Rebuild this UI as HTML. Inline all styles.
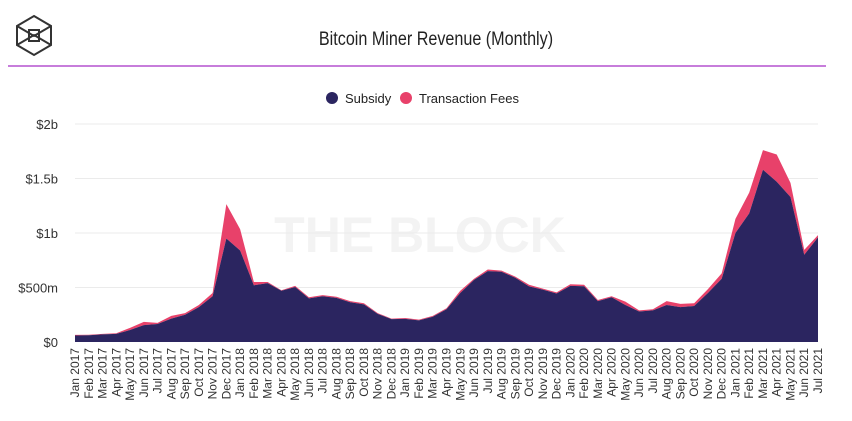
<!DOCTYPE html>
<html><head><meta charset="utf-8"><style>
body{margin:0;background:#fff;width:852px;height:416px;overflow:hidden;font-family:"Liberation Sans",sans-serif}
</style></head><body>
<svg width="852" height="416" xmlns="http://www.w3.org/2000/svg">
<g fill="none" stroke="#333" stroke-width="2">
<polygon points="34,16 51,26 51,45 34,55 17,45 17,26"/>
<polyline points="17,26 34,36 51,26"/><polyline points="17,45 34,35 51,45"/>
<rect x="29" y="30" width="10" height="11"/>
</g>
<text x="436" y="45" text-anchor="middle" font-size="19" fill="#222" transform="translate(436,0) scale(0.85,1) translate(-436,0)">Bitcoin Miner Revenue (Monthly)</text>
<rect x="8" y="65" width="818" height="2" fill="#c77ddb"/>
<g font-size="13" fill="#222">
<circle cx="332" cy="98" r="6" fill="#2b2560"/>
<text x="345" y="103">Subsidy</text>
<circle cx="406" cy="98" r="6" fill="#e8416a"/>
<text x="419" y="103">Transaction Fees</text>
</g>
<text x="420" y="252" text-anchor="middle" font-size="50" font-weight="bold" fill="#f3f3f3">THE BLOCK</text>
<g id="grid"></g><g id="areas"></g><g id="xlabels"></g>
</svg>
<script>
const months=["Jan","Feb","Mar","Apr","May","Jun","Jul","Aug","Sep","Oct","Nov","Dec"];
const subsidy=[60,62,70,75,110,155,165,215,250,320,420,950,840,520,540,470,505,400,420,405,365,345,258,210,212,198,232,300,450,570,650,645,590,510,480,445,515,512,375,410,340,280,290,340,320,330,450,580,1000,1180,1580,1470,1330,800,960];
const fees=[5,5,5,5,20,30,10,25,15,20,30,315,195,30,10,5,10,10,10,10,10,10,7,5,8,7,8,10,20,10,15,10,10,15,10,10,15,13,10,10,30,10,10,35,30,25,35,50,130,190,180,250,130,45,20];
const yTicks=[0,500,1000,1500,2000];
const yTickLabels=["$0","$500m","$1b","$1.5b","$2b"];
const NS="http://www.w3.org/2000/svg";
const x0=75,x1=818,yb=342,yt=124;
const X=i=>x0+i*(x1-x0)/(subsidy.length-1);
const Y=v=>yb-v*(yb-yt)/2000;
const grid=document.getElementById('grid');
yTicks.forEach((t,i)=>{
 if(t>0){const l=document.createElementNS(NS,'line');
 
 
 l.setAttribute('x1',x0);l.setAttribute('x2',x1);l.setAttribute('y1',Y(t));l.setAttribute('y2',Y(t));l.setAttribute('stroke','#ebebeb');grid.appendChild(l);}
 const tx=document.createElementNS(NS,'text');
 
 
 tx.setAttribute('x',58);tx.setAttribute('y',Y(t)+5);tx.setAttribute('text-anchor','end');tx.setAttribute('font-size','13');tx.setAttribute('fill','#333');tx.textContent=yTickLabels[i];grid.appendChild(tx);
});
const areas=document.getElementById('areas');
const totalPts=subsidy.map((s,i)=>X(i)+','+Y(s+fees[i]));
const midPts=subsidy.map((s,i)=>X(i)+','+Y(s));
const pf=document.createElementNS(NS,'polygon');


pf.setAttribute('points',totalPts.join(' ')+' '+midPts.slice().reverse().join(' '));pf.setAttribute('fill','#e8416a');areas.appendChild(pf);
const ps=document.createElementNS(NS,'polygon');


ps.setAttribute('points',midPts.join(' ')+' '+X(subsidy.length-1)+','+yb+' '+X(0)+','+yb);ps.setAttribute('fill','#2b2560');areas.appendChild(ps);
const xl=document.getElementById('xlabels');
subsidy.forEach((s,i)=>{
 const t=document.createElementNS(NS,'text');
 
 
 const x=X(i)+4,y=348;
 t.setAttribute('x',x);t.setAttribute('y',y);t.setAttribute('text-anchor','end');t.setAttribute('font-size','12');t.setAttribute('fill','#333');
 t.setAttribute('transform','rotate(-90 '+x+' '+y+')');
 t.textContent=months[i%12]+' '+(2017+Math.floor(i/12));xl.appendChild(t);
});
</script>
</body></html>
